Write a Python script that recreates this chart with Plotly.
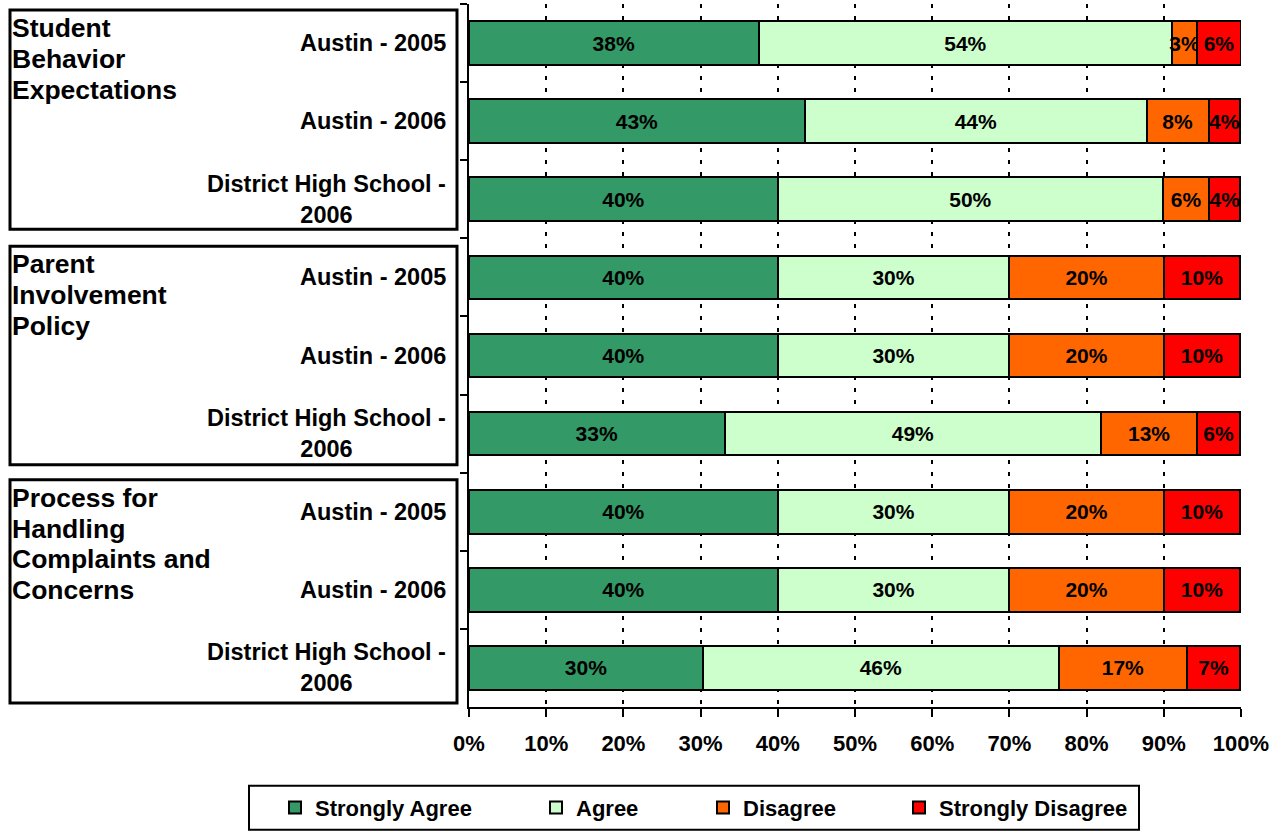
import plotly.graph_objects as go

# ---------------- data ----------------
groups = ["Student Behavior Expectations",
          "Parent Involvement Policy",
          "Process for Handling Complaints and Concerns"]
group_lines = [["Student", "Behavior", "Expectations"],
               ["Parent", "Involvement", "Policy"],
               ["Process for", "Handling", "Complaints and", "Concerns"]]
respondents = ["Austin - 2005", "Austin - 2006", "District High School - 2006"]

series_names = ["Strongly Agree", "Agree", "Disagree", "Strongly Disagree"]
strongly_agree = [37.5, 43.5, 40.0, 40, 40, 33.1, 40, 40, 30.3]
agree = [53.6, 44.3, 49.9, 30, 30, 48.8, 30, 30, 46.1]
disagree = [3.2, 8.0, 6.0, 20, 20, 12.4, 20, 20, 16.6]
strongly_disagree = [5.7, 4.1, 4.0, 9.9, 9.9, 5.6, 9.9, 9.9, 6.9]

strongly_agree_labels = ["38%", "43%", "40%", "40%", "40%", "33%", "40%", "40%", "30%"]
agree_labels = ["54%", "44%", "50%", "30%", "30%", "49%", "30%", "30%", "46%"]
disagree_labels = ["3%", "8%", "6%", "20%", "20%", "13%", "20%", "20%", "17%"]
strongly_disagree_labels = ["6%", "4%", "4%", "10%", "10%", "6%", "10%", "10%", "7%"]

x_ticks = [0, 10, 20, 30, 40, 50, 60, 70, 80, 90, 100]

colors = ["#339966", "#CCFFCC", "#FF6600", "#FF0000"]

# ---------------- layout geometry ----------------
W, H = 1284, 833
ML, MR, MT, MB = 469, 43, 4, 124
PW = W - ML - MR
PH = H - MT - MB


def px_x(p):
    return (p - ML) / PW


def px_y(p):
    return (H - MB - p) / PH


FONT = "Liberation Sans, Arial, sans-serif"

# unique category keys
cats = [g + " | " + r for g in groups for r in respondents]

fig = go.Figure()
values = [strongly_agree, agree, disagree, strongly_disagree]
labels = [strongly_agree_labels, agree_labels, disagree_labels, strongly_disagree_labels]
legend_ids = ["legend", "legend2", "legend3", "legend4"]
for name, vals, labs, col, lg in zip(series_names, values, labels, colors, legend_ids):
    fig.add_trace(go.Bar(
        y=cats, x=vals, name=name, orientation="h",
        marker=dict(color=col, line=dict(color="black", width=2)),
        text=labs, textposition="inside", insidetextanchor="middle", textangle=0,
        constraintext="none",
        textfont=dict(family=FONT, size=21, color="black", weight="bold"),
        cliponaxis=False, legend=lg, hoverinfo="skip",
    ))

# category labels
for i, c in enumerate(cats):
    r = respondents[i % 3].replace("School - ", "School -<br>")
    fig.add_annotation(x=px_x(448), xref="paper", y=c, yref="y", text=r,
                       showarrow=False, xanchor="right", yanchor="middle", align="center",
                       font=dict(family=FONT, size=23.5, color="black", weight="bold"))

# group boxes + labels
boxes = [(10, 230), (247, 466), (481, 705)]
for lines, (t, b) in zip(group_lines, boxes):
    fig.add_shape(type="rect", xref="paper", yref="paper",
                  x0=px_x(10), x1=px_x(457), y0=px_y(b), y1=px_y(t),
                  line=dict(color="black", width=3), fillcolor="rgba(0,0,0,0)")
    for k, ln in enumerate(lines):
        fig.add_annotation(x=px_x(10), xref="paper", y=px_y(t + 18 + 31 * k), yref="paper",
                           text=ln, showarrow=False, xanchor="left", yanchor="middle",
                           align="left",
                           font=dict(family=FONT, size=26.5, color="black", weight="bold"))

# legend frame
fig.add_shape(type="rect", xref="paper", yref="paper",
              x0=px_x(249), x1=px_x(1139), y0=px_y(832), y1=px_y(788),
              line=dict(color="black", width=2), fillcolor="white", layer="below")

leg_font = dict(family=FONT, size=22, color="black", weight="bold")
swatch_centers = [295, 556, 723, 919]
legends = {}
for lg, sc in zip(legend_ids, swatch_centers):
    legends[lg] = dict(orientation="h", x=px_x(sc - 20), xanchor="left",
                       y=px_y(810), yanchor="middle", font=leg_font,
                       bgcolor="rgba(0,0,0,0)", borderwidth=0)

fig.update_layout(
    width=W, height=H,
    margin=dict(l=ML, r=MR, t=MT, b=MB, pad=0),
    barmode="stack", bargap=0.44,
    plot_bgcolor="white", paper_bgcolor="white",
    showlegend=True,
    uniformtext=dict(minsize=21, mode="show"),
    xaxis=dict(range=[0, 100], tickvals=x_ticks, ticktext=[f"{v}%" for v in x_ticks],
               showgrid=True, gridcolor="black", gridwidth=2, griddash="4px,8px",
               zeroline=False, showline=True, linecolor="black", linewidth=2,
               ticks="outside", ticklen=8, tickwidth=2, tickcolor="black",
               ticklabelstandoff=8,
               tickfont=dict(family=FONT, size=22, color="black", weight="bold")),
    yaxis=dict(categoryorder="array", categoryarray=cats, range=[8.5, -0.5],
               showticklabels=False, showgrid=False, zeroline=False,
               showline=True, linecolor="black", linewidth=1.5,
               ticks="outside", tickson="boundaries", ticklen=7, tickcolor="black", tickwidth=1.5),
    **legends,
)

fig.write_html("out.html", config={"displayModeBar": False},
               post_script="document.body.style.margin='0';")
